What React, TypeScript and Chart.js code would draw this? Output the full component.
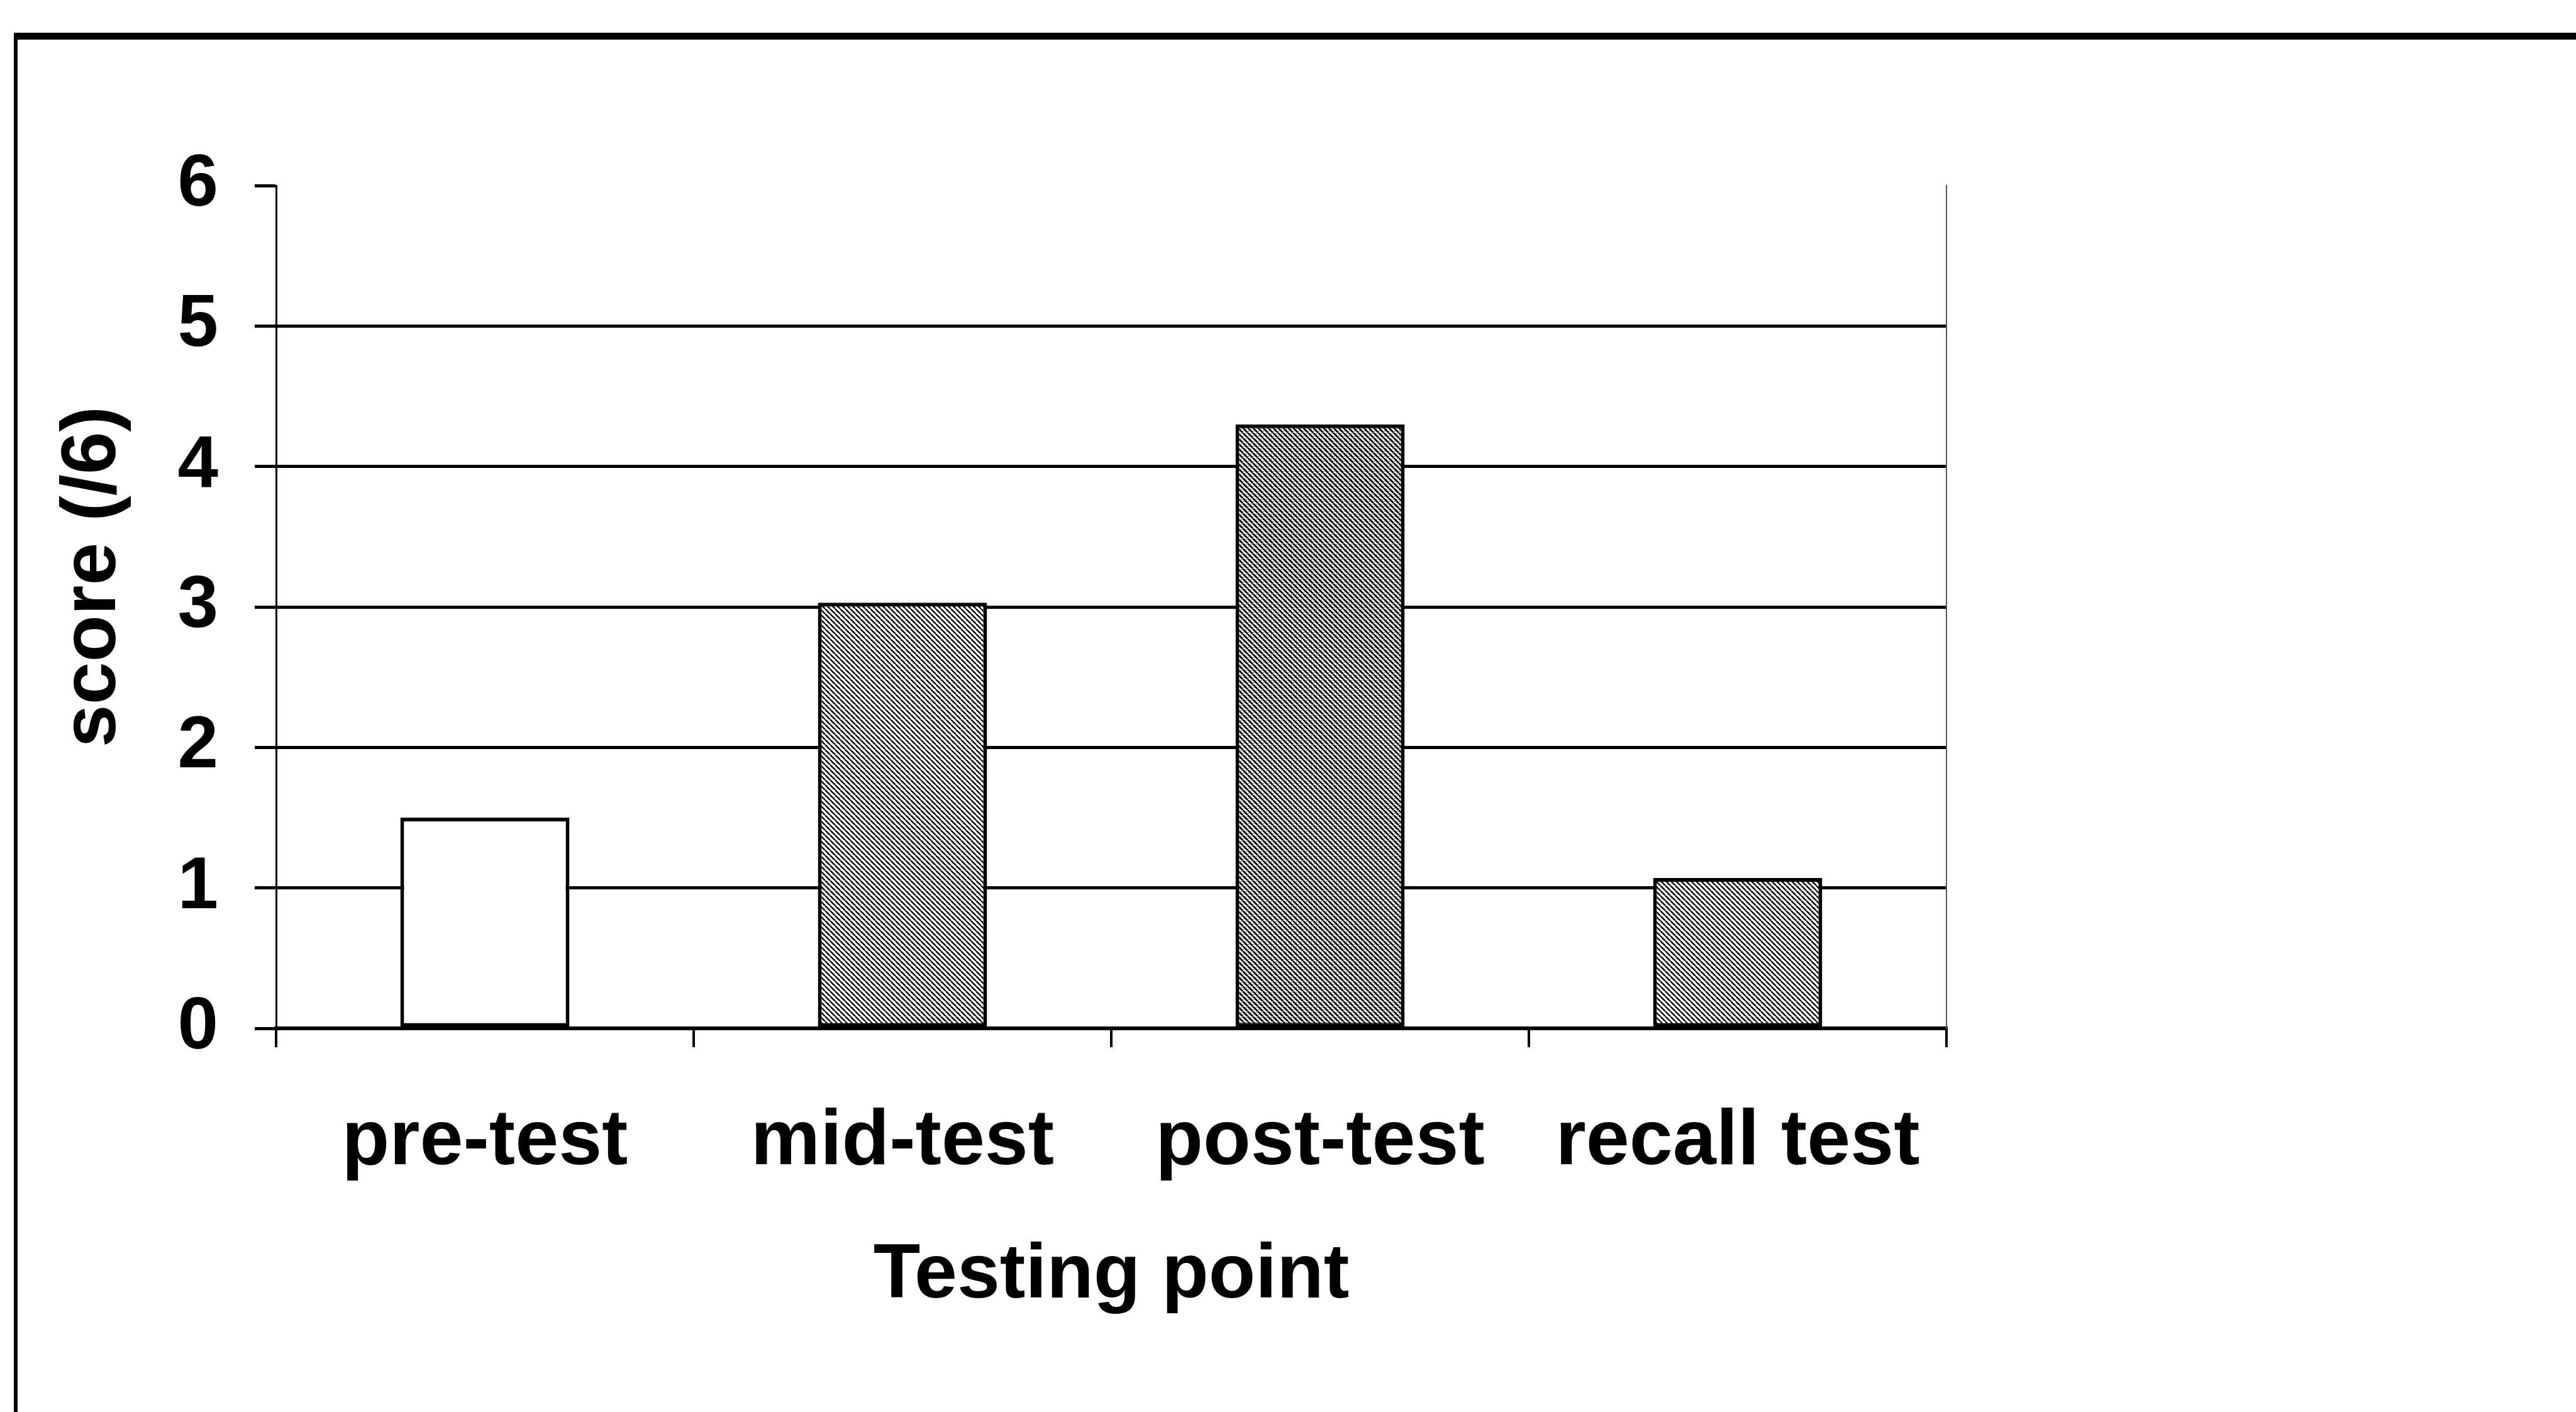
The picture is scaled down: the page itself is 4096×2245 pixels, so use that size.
import React, { useEffect, useRef } from 'react';
import { Chart, registerables } from 'chart.js';

Chart.register(...registerables);

// ---- data ----
const categories: string[] = ['pre-test', 'mid-test', 'post-test', 'recall test'];
const scores: number[] = [1.5, 3.03, 4.3, 1.07];
const yTickValues: number[] = [0, 1, 2, 3, 4, 5, 6];
const xAxisTitle = 'Testing point';
const yAxisTitle = 'score (/6)';

const FONT = '"Liberation Sans", Arial, Helvetica, sans-serif';

function makeHatch(lineW: number, dots: boolean): CanvasPattern | string {
  const c = document.createElement('canvas');
  const s = 8;
  c.width = s;
  c.height = s;
  const g = c.getContext('2d');
  if (!g) return '#999';
  g.fillStyle = '#ffffff';
  g.fillRect(0, 0, s, s);
  g.strokeStyle = '#000000';
  g.lineWidth = lineW;
  g.beginPath();
  for (let k = -s; k <= 2 * s; k += s) {
    g.moveTo(k, 0);
    g.lineTo(k + s, s);
  }
  g.stroke();
  if (dots) {
    g.fillStyle = '#000000';
    g.fillRect(5, 1, 1, 1);
    g.fillRect(1, 5, 1, 1);
  }
  const p = g.createPattern(c, 'repeat');
  return p || '#999';
}

// y-axis title drawn beside the axis, slightly above its centre as in the original
const yTitlePlugin = {
  id: 'yTitle',
  afterDraw(chart: any) {
    const { ctx, chartArea } = chart;
    const cy = (chartArea.top + chartArea.bottom) / 2 - 48;
    ctx.save();
    ctx.translate(149, cy);
    ctx.rotate(-Math.PI / 2);
    ctx.font = `bold 122px ${FONT}`;
    ctx.fillStyle = '#000000';
    ctx.textAlign = 'center';
    ctx.textBaseline = 'middle';
    ctx.fillText(yAxisTitle, 0, 0);
    ctx.restore();
  },
};

export default function App() {
  const ref = useRef<HTMLCanvasElement | null>(null);

  useEffect(() => {
    if (!ref.current) return;
    const dark = makeHatch(2.8, true);
    const medium = makeHatch(2.3, false);
    const fills = ['#ffffff', medium, dark, medium];

    const chart = new Chart(ref.current, {
      type: 'bar',
      data: {
        labels: categories,
        datasets: [
          {
            label: 'score',
            data: scores,
            backgroundColor: fills as any,
            borderColor: '#000000',
            borderWidth: 6,
            borderSkipped: false,
            barPercentage: 0.405,
            categoryPercentage: 1.0,
          },
        ],
      },
      plugins: [yTitlePlugin],
      options: {
        animation: false,
        responsive: true,
        maintainAspectRatio: false,
        layout: { padding: { top: 295, right: 1001, bottom: 0, left: 0 } },
        plugins: {
          legend: { display: false },
          tooltip: { enabled: false },
          title: { display: false },
        },
        scales: {
          x: {
            type: 'category',
            offset: true,
            grid: {
              display: true,
              drawOnChartArea: false,
              drawTicks: true,
              tickLength: 30,
              offset: true,
              color: '#000000',
              lineWidth: 4,
            },
            border: { display: true, color: '#000000', width: 6 },
            ticks: {
              color: '#000000',
              padding: 77,
              font: { family: FONT, size: 124, weight: 'bold' },
              maxRotation: 0,
              autoSkip: false,
            },
            title: {
              display: true,
              text: xAxisTitle,
              color: '#000000',
              font: { family: FONT, size: 122, weight: 'bold' },
              padding: { top: 0, bottom: 142 },
            },
            afterFit: (scale: any) => {
              scale.height = 610;
            },
          },
          y: {
            type: 'linear',
            position: 'left',
            min: 0,
            max: 6,
            afterBuildTicks: (scale: any) => {
              scale.ticks = yTickValues.map((v) => ({ value: v }));
            },
            grid: {
              display: true,
              drawOnChartArea: true,
              drawTicks: true,
              tickLength: 34,
              color: (ctx: any) => (ctx.tick && ctx.tick.value === 6 ? 'rgba(0,0,0,0)' : '#000000'),
              tickColor: '#000000',
              lineWidth: 5,
            },
            border: { display: true, color: '#000000', width: 3 },
            ticks: {
              color: '#000000',
              padding: 58,
              font: { family: FONT, size: 116, weight: 'bold' },
            },
            title: { display: false },
            afterFit: (scale: any) => {
              scale.width = 439;
            },
          },
          y2: {
            type: 'linear',
            position: 'right',
            min: 0,
            max: 6,
            grid: { display: true, drawOnChartArea: false, drawTicks: false },
            border: { display: true, color: '#555555', width: 2, dash: [3, 10] },
            ticks: { display: false },
            afterFit: (scale: any) => {
              scale.width = 0;
            },
          },
        },
      },
    });
    return () => chart.destroy();
  }, []);

  return (
    <div
      style={{
        position: 'fixed',
        left: 0,
        top: 0,
        width: '100vw',
        height: '100vh',
        background: '#ffffff',
        overflow: 'hidden',
      }}
    >
      <div
        style={{
          position: 'absolute',
          left: 22,
          top: 52,
          right: -20,
          bottom: -20,
          borderTop: '11px solid #000',
          borderLeft: '6px solid #000',
          boxSizing: 'border-box',
        }}
      />
      <canvas ref={ref} style={{ position: 'absolute', left: 0, top: 0, width: '100%', height: '100%' }} />
    </div>
  );
}
